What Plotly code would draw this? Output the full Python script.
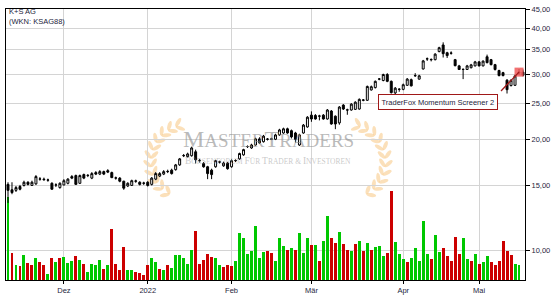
import math
import numpy as np
import pandas as pd
import plotly.graph_objects as go

# ---------------- data ----------------
holidays = ["2021-12-24", "2021-12-31", "2022-04-15", "2022-04-18"]
trade_days = pd.bdate_range("2021-11-11", "2022-05-17")
trade_days = trade_days[~trade_days.isin(pd.to_datetime(holidays))]
dates = trade_days.strftime("%Y-%m-%d").tolist()

open_ = [15.10, 14.60, 14.55, 14.90, 15.00, 15.30, 15.00, 15.15, 15.60, 15.60,
         15.50, 15.20, 15.05, 14.80, 15.05, 15.20, 15.85, 15.95, 15.20, 16.05,
         15.95, 15.70, 16.25, 16.10, 16.35, 16.45, 16.25, 15.70, 15.70, 15.40,
         14.95, 15.00, 15.40, 15.30, 15.20, 15.30, 15.10, 15.60, 15.90, 16.10,
         16.35, 16.50, 16.55, 17.05, 18.05, 17.95, 18.05, 18.50, 17.50, 17.20,
         16.85, 16.50, 16.85, 17.35, 16.95, 17.25, 16.85, 17.50, 17.70, 18.15,
         19.10, 18.95, 19.30, 20.05, 19.70, 20.00, 20.00, 20.00, 20.55, 20.80,
         21.35, 21.10, 20.80, 19.30, 20.80, 21.60, 23.25, 23.20, 23.10, 23.25,
         22.70, 23.85, 23.10, 22.15, 24.75, 24.00, 24.00, 24.10, 24.15, 25.50,
         25.50, 27.20, 27.60, 29.10, 28.85, 29.95, 28.70, 26.70, 27.30, 27.30,
         28.00, 29.00, 29.70, 29.10, 31.00, 33.00, 32.90, 32.85, 34.55, 36.00,
         34.30, 34.20, 32.85, 31.60, 30.90, 30.90, 31.25, 31.60, 32.40, 31.60,
         33.45, 32.85, 31.85, 30.70, 30.30, 28.90, 27.95, 28.00, 30.20, 30.40]
high = [15.30, 15.30, 14.95, 15.05, 15.45, 15.40, 15.45, 16.00, 15.80, 15.75,
        15.65, 15.30, 15.20, 15.30, 15.60, 15.70, 16.00, 16.05, 16.05, 16.15,
        16.10, 16.30, 16.40, 16.50, 16.45, 16.60, 16.35, 15.85, 15.80, 15.45,
        15.30, 15.55, 15.55, 15.40, 15.35, 15.40, 15.80, 16.30, 16.30, 16.50,
        16.55, 16.65, 17.15, 17.80, 18.25, 18.40, 19.10, 18.75, 17.70, 17.35,
        16.95, 16.65, 17.60, 17.50, 17.40, 17.35, 17.65, 17.65, 18.40, 18.85,
        19.25, 19.45, 20.20, 20.25, 20.55, 20.15, 20.20, 20.70, 21.35, 21.50,
        21.50, 21.25, 20.95, 20.70, 22.00, 23.10, 23.80, 23.40, 23.30, 23.40,
        24.15, 24.00, 23.20, 24.60, 24.90, 24.20, 25.05, 25.35, 25.80, 25.70,
        27.95, 27.95, 28.85, 29.30, 30.10, 30.20, 28.85, 27.70, 27.50, 28.30,
        29.30, 29.20, 30.20, 29.90, 32.80, 33.30, 33.10, 34.20, 35.60, 36.60,
        34.50, 34.60, 33.00, 31.80, 31.10, 31.80, 32.00, 32.60, 32.60, 32.70,
        33.90, 33.00, 32.00, 30.85, 30.45, 29.10, 29.05, 29.90, 31.00, 30.90]
low = [13.45, 14.20, 14.40, 14.55, 14.90, 15.00, 14.95, 15.05, 15.45, 15.45,
       15.35, 14.60, 14.85, 14.70, 15.00, 15.10, 15.60, 15.05, 15.15, 15.60,
       15.80, 15.60, 16.00, 16.00, 16.00, 16.20, 15.70, 15.55, 15.30, 14.60,
       14.85, 14.95, 15.25, 15.00, 15.05, 14.90, 15.00, 15.50, 15.80, 16.00,
       16.20, 16.05, 16.45, 16.95, 17.90, 17.85, 17.95, 17.20, 17.30, 16.75,
       15.60, 15.60, 16.75, 17.20, 16.85, 16.55, 16.75, 17.35, 17.60, 18.05,
       18.95, 18.85, 19.20, 19.45, 19.60, 19.85, 19.90, 19.90, 20.45, 20.70,
       20.70, 20.10, 19.60, 19.20, 20.70, 21.50, 22.30, 22.60, 22.50, 22.60,
       22.60, 21.90, 21.30, 21.90, 24.00, 23.30, 23.90, 24.00, 24.05, 25.35,
       25.40, 27.10, 27.45, 28.90, 28.70, 28.55, 26.60, 26.50, 26.90, 27.15,
       27.90, 27.80, 29.50, 29.00, 30.90, 32.60, 32.50, 32.70, 34.40, 33.30,
       33.20, 33.90, 31.50, 30.80, 29.10, 30.80, 31.10, 31.50, 31.50, 31.50,
       32.10, 31.70, 30.70, 29.60, 29.60, 26.60, 27.80, 27.90, 29.90, 29.60]
close = [14.55, 14.35, 14.80, 14.65, 15.30, 15.10, 15.30, 15.85, 15.62, 15.55,
         15.52, 14.65, 15.05, 15.20, 15.45, 15.60, 15.70, 15.10, 15.95, 15.70,
         15.97, 16.15, 16.10, 16.35, 16.10, 16.30, 15.75, 15.72, 15.40, 14.75,
         15.20, 15.45, 15.42, 15.10, 15.22, 15.00, 15.70, 16.15, 16.15, 16.35,
         16.37, 16.15, 17.05, 17.70, 18.07, 18.25, 18.95, 17.60, 17.52, 16.85,
         16.15, 16.05, 17.50, 17.37, 17.25, 16.65, 17.50, 17.52, 18.30, 18.75,
         19.12, 19.30, 20.05, 19.55, 20.40, 20.02, 20.05, 20.55, 21.20, 21.35,
         20.80, 20.30, 20.00, 20.55, 21.85, 22.95, 22.70, 22.70, 23.12, 22.70,
         24.00, 22.00, 22.00, 24.45, 24.15, 24.02, 24.90, 25.20, 25.65, 25.55,
         27.80, 27.75, 28.70, 29.12, 29.95, 28.70, 26.75, 27.50, 27.32, 28.10,
         29.10, 27.90, 29.75, 29.70, 32.60, 33.02, 32.85, 34.00, 35.40, 34.10,
         33.70, 34.22, 31.65, 30.90, 30.92, 31.60, 31.80, 32.40, 31.60, 32.55,
         32.25, 31.85, 30.90, 29.75, 29.75, 27.25, 28.90, 29.70, 30.40, 29.80]

# volume in thousand shares (last session without volume)
volume = [4200, 1350, 750, 700, 1250, 850, 750, 1100, 900, 750,
          300, 1100, 900, 1100, 1150, 850, 950, 1200, 1000, 800,
          400, 800, 750, 1000, 550, 750, 2600, 800, 500, 1650,
          500, 500, 400, 350, 250, 750, 1100, 900, 550, 500,
          750, 600, 1250, 1250, 1100, 800, 1500, 2500, 800, 1000,
          1300, 1150, 1100, 750, 650, 750, 700, 950, 2400, 2150,
          1300, 1450, 2750, 1100, 1400, 1450, 1350, 950, 2150, 1750,
          1500, 1600, 1500, 2400, 1350, 2150, 1800, 1800, 950, 2000,
          3250, 2150, 1900, 2450, 1850, 1500, 1450, 1850, 2000, 1450,
          1900, 1500, 1650, 1750, 1200, 1350, 4500, 1950, 1300, 1050,
          900, 1100, 1600, 950, 3000, 1300, 1050, 2300, 1400, 1600,
          1200, 950, 2200, 1300, 2150, 1050, 950, 1300, 800, 900,
          1200, 900, 750, 950, 2000, 1450, 1250, 800, 750]
volume_dir = list(
    "GRGRGRRGRRGRGRGGGRGRGGGGRGRRRRGGRRRRGGRGRGGGGGGRRRRRGGRRRGGGGGGGGRRGGGRGRGGGRGRGGRRGRRGRGRGRGGGRRGGGRGGGGGRGGRRRRRGGRGRGGRRRRRRGG"
)
volume_dir = volume_dir[:len(volume)]

month_labels = ["Dez", "2022", "Feb", "Mär", "Apr", "Mai"]
price_ticks = [10, 15, 20, 25, 30, 35, 40, 45]
title_lines = ["K+S AG", "(WKN: KSAG88)"]
signal_label = "TraderFox Momentum Screener 2"
signal_index = 128

# ---------------- styling ----------------
GREEN = "#00c800"
RED = "#cc0000"
GRID = "#d4d4d4"
TEXT = "#1e1e3c"
SIG = "#a01818"
FONT = "Liberation Sans, Arial, sans-serif"

W, H = 555, 300
ML, MR, MT, MB = 5, 30, 5, 20
PW, PH = W - ML - MR, H - MT - MB

month_starts = [dates[i] for i in range(1, len(dates)) if dates[i][:7] != dates[i - 1][:7]]

fig = go.Figure()
fig.add_trace(go.Bar(
    x=dates[:len(volume)], y=volume,
    marker=dict(color=[GREEN if d == "G" else RED for d in volume_dir], line=dict(width=0)),
    width=0.74, yaxis="y", hoverinfo="skip", showlegend=False,
))
# signal marker (drawn beneath the candles)
fig.add_trace(go.Scatter(
    x=[dates[signal_index]], y=[close[signal_index]], yaxis="y2", mode="markers",
    marker=dict(symbol="square", size=9, color="rgba(240,90,90,0.85)", line=dict(width=0)),
    hoverinfo="skip", showlegend=False,
))
fig.add_trace(go.Candlestick(
    x=dates, open=open_, high=high, low=low, close=close, yaxis="y2",
    increasing=dict(line=dict(color="black", width=1), fillcolor="white"),
    decreasing=dict(line=dict(color="black", width=1), fillcolor="black"),
    whiskerwidth=0, showlegend=False,
))

# ---------------- decorations (laurels, paper coordinates) ----------------
def to_paper(px, py):
    return (px - ML) / PW, (MT + PH - py) / PH

def leaf_path(cx, cy, ux, uy, L, Wd):
    nx, ny = -uy, ux
    pts = []
    for k in range(16):
        t = 2 * math.pi * k / 16
        px = cx + ux * (L / 2) * math.cos(t) + nx * (Wd / 2) * math.sin(t)
        py = cy + uy * (L / 2) * math.cos(t) + ny * (Wd / 2) * math.sin(t)
        X, Y = to_paper(px, -py)  # math (y up) -> screen
        pts.append(f"{X:.4f},{Y:.4f}")
    return "M " + " L ".join(pts) + " Z"

shapes = []
LEAF = "rgba(246,190,110,0.48)"
for mirror in (False, True):
    ccx, ccy, rad = 188.0, -160.0, 38.0
    for deg in range(240, 105, -13):
        th = math.radians(deg)
        sx = ccx + rad * math.cos(th)
        sy = ccy + rad * math.sin(th)
        dx, dy = math.sin(th), -math.cos(th)
        for tilt in (40, -40):
            a = math.radians(tilt)
            ux = dx * math.cos(a) - dy * math.sin(a)
            uy = dx * math.sin(a) + dy * math.cos(a)
            cxl, cyl = sx + ux * 5.0, sy + uy * 5.0
            if mirror:
                cxl = 2 * 267.5 - cxl
                ux = -ux
            shapes.append(dict(type="path", xref="paper", yref="paper",
                               path=leaf_path(cxl, cyl, ux, uy, 10, 4),
                               fillcolor=LEAF, line=dict(width=0), layer="below"))

sig_y = math.log10(close[signal_index])
annotations = [
    dict(xref="paper", yref="paper", x=0, y=1, xanchor="left", yanchor="top",
         xshift=1, yshift=4, showarrow=False, align="left",
         text="<br>".join(title_lines), font=dict(family=FONT, size=7.5, color=TEXT)),
    dict(xref="paper", yref="paper", x=0.505, y=(MT + PH - 137) / PH, showarrow=False,
         text='<span style="font-size:24px">M</span>ASTER<span style="font-size:24px">T</span>RADERS',
         font=dict(family="Liberation Serif, Times New Roman, serif", size=19, color="rgba(140,140,140,0.6)")),
    dict(xref="paper", yref="paper", x=0.505, y=(MT + PH - 159) / PH, showarrow=False,
         text=('<span style="font-size:9.5px">B</span>ÖRSENFORUM <span style="font-size:9.5px">F</span>ÜR '
               '<span style="font-size:9.5px">T</span>RADER &amp; <span style="font-size:9.5px">I</span>NVESTOREN'),
         font=dict(family="Liberation Serif, Times New Roman, serif", size=7.5, color="rgba(155,155,155,0.55)")),
    dict(xref="x", yref="y2", x=signal_index, y=sig_y, ax=-21, ay=22,
         showarrow=True, arrowhead=0, arrowwidth=1.3, arrowcolor=SIG, standoff=0, text=" "),
    dict(xref="x", yref="y2", x=signal_index, y=sig_y, xanchor="right", yanchor="top",
         xshift=-21, yshift=-22, showarrow=False, text=signal_label,
         font=dict(family=FONT, size=7.5, color=TEXT), bgcolor="white",
         bordercolor=SIG, borderwidth=1, borderpad=2.5),
]

fig.update_layout(
    width=W, height=H, margin=dict(l=ML, r=MR, t=MT, b=MB),
    paper_bgcolor="white", plot_bgcolor="white", showlegend=False,
    shapes=shapes, annotations=annotations, bargap=0,
    xaxis=dict(type="category", range=[-0.5, len(dates) - 0.5],
               tickvals=month_starts, ticktext=month_labels,
               showgrid=True, gridcolor=GRID, gridwidth=1,
               showline=True, linecolor="black", linewidth=1, mirror=True,
               ticks="outside", ticklen=3, tickcolor="black",
               tickfont=dict(family=FONT, size=7.5, color=TEXT),
               rangeslider=dict(visible=False), fixedrange=True),
    yaxis=dict(range=[0, 13750], visible=False, fixedrange=True),
    yaxis2=dict(overlaying="y", side="right", type="log",
                range=[math.log10(8.32), math.log10(45.05)],
                tickvals=price_ticks,
                ticktext=[f"{v:.2f}".replace(".", ",") for v in price_ticks],
                showgrid=True, gridcolor=GRID, gridwidth=1,
                showline=True, linecolor="black", linewidth=1, mirror=True,
                ticks="outside", ticklen=4, tickcolor="black",
                tickfont=dict(family=FONT, size=7.5, color=TEXT), fixedrange=True),
)

fig.write_html("out.html")
